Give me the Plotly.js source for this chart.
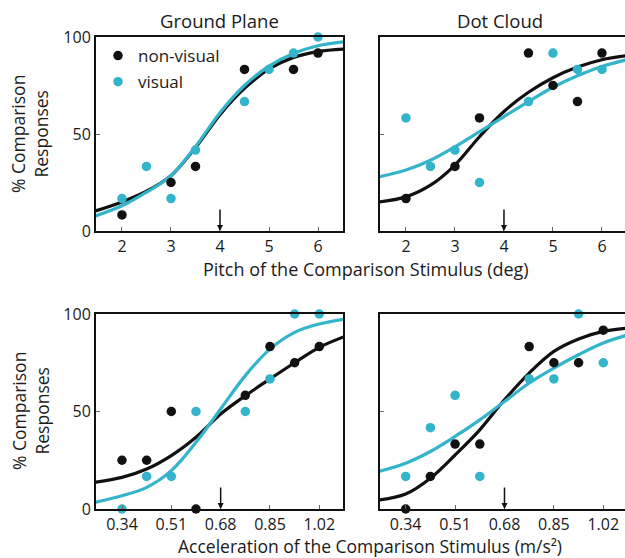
<!DOCTYPE html>
<html>
<head>
<meta charset="utf-8">
<script src="https://cdn.plot.ly/plotly-3.0.1.min.js"></script>
<style>html,body{margin:0;padding:0;background:#fff;overflow:hidden}</style>
</head>
<body>
<div id="chart" style="width:625px;height:558px"></div>
<script>
// ---- Data ----
const pitchX = [2, 2.5, 3, 3.5, 4, 4.5, 5, 5.5, 6];
const accelX = [0.34, 0.425, 0.51, 0.595, 0.68, 0.765, 0.85, 0.935, 1.02];
const pitchTicks = [2, 3, 4, 5, 6];
const accelTicks = [0.34, 0.51, 0.68, 0.85, 1.02];
const accelTickText = ["0.34", "0.51", "0.68", "0.85", "1.02"];

// Ground Plane, pitch (null = not visible)
const gpPitchNonVis = [8.3, null, 25, 33.3, null, 83.3, null, 83.3, 91.7];
const gpPitchVis    = [16.7, 33.3, 16.7, 41.7, null, 66.7, 83.3, 91.7, 100];
// Dot Cloud, pitch
const dcPitchNonVis = [16.7, null, 33.3, 58.3, null, 91.7, 75, 66.7, 91.7];
const dcPitchVis    = [58.3, 33.3, 41.7, 25, null, 66.7, 91.7, 83.3, 83.3];
// Ground Plane, acceleration
const gpAccelNonVis = [25, 25, 50, 0, null, 58.3, 83.3, 75, 83.3];
const gpAccelVis    = [0, 16.7, 16.7, 50, null, 50, 66.7, 100, 100];
// Dot Cloud, acceleration
const dcAccelNonVis = [0, 16.7, 33.3, 33.3, null, 83.3, 75, 75, 91.7];
const dcAccelVis    = [16.7, 41.7, 58.3, 16.7, null, 66.7, 66.7, 100, 75];

// Fitted curves
const pitchCurveX = [1.45, 2, 2.5, 3, 3.5, 4, 4.5, 5, 5.5, 6, 6.55];
const gpPitchFitNonVis = [10.3, 15, 20.5, 28.5, 43, 60, 73.5, 83.5, 89.5, 92.5, 93.8];
const gpPitchFitVis    = [7.7, 13, 20, 28.5, 43.5, 61, 75, 85, 91.5, 95.5, 97.6];
const dcPitchFitNonVis = [15, 17.6, 23.6, 34, 48.6, 61.6, 71.5, 79, 84.5, 88.3, 90.5];
const dcPitchFitVis    = [27.9, 31.4, 36.5, 43.4, 51.2, 59, 66.7, 74.1, 80, 84.8, 88.5];

const accelCurveX = [0.245, 0.34, 0.425, 0.51, 0.595, 0.68, 0.765, 0.85, 0.935, 1.02, 1.11];
const gpAccelFitNonVis = [13.7, 16.2, 20.5, 27.4, 36.8, 48.7, 58.1, 66.7, 75, 82.9, 88.6];
const gpAccelFitVis    = [3.4, 6.8, 11.1, 19.7, 34.2, 51.3, 68.4, 82, 90.6, 94.9, 97.5];
const dcAccelFitNonVis = [4.6, 7.7, 15.8, 27.7, 40.6, 56, 69.7, 80.8, 87.2, 91.1, 92.9];
const dcAccelFitVis    = [19.2, 23.5, 29.5, 37.2, 45.7, 55.1, 64.6, 72.3, 79.1, 85.1, 89.5];

const pitchPSE = 4;
const accelPSE = 0.68;

// ---- Styles ----
const BLACK = '#111111';
const CYAN = '#33b4cb';
const TXT = '#1a1a1a';
const W = 625, H = 558;
const px = v => v / W;
const py = v => 1 - v / H;
const FONT = 'Open Sans, Lato, sans-serif';

function curve(xa, ya, x, y, color) {
  return {x: x, y: y, xaxis: xa, yaxis: ya, type: 'scatter', mode: 'lines',
    line: {color: color, width: 3.2, shape: 'spline', smoothing: 1}, showlegend: false, hoverinfo: 'skip'};
}
function dots(xa, ya, x, y, color, name, show) {
  return {x: x, y: y, xaxis: xa, yaxis: ya, type: 'scatter', mode: 'markers', name: name,
    marker: {color: color, size: 9.5}, cliponaxis: false, showlegend: show, legendgroup: name};
}

const traces = [
  curve('x', 'y', pitchCurveX, gpPitchFitNonVis, BLACK),
  curve('x', 'y', pitchCurveX, gpPitchFitVis, CYAN),
  dots('x', 'y', pitchX, gpPitchNonVis, BLACK, 'non-visual', true),
  dots('x', 'y', pitchX, gpPitchVis, CYAN, 'visual', true),

  curve('x2', 'y2', pitchCurveX, dcPitchFitNonVis, BLACK),
  curve('x2', 'y2', pitchCurveX, dcPitchFitVis, CYAN),
  dots('x2', 'y2', pitchX, dcPitchNonVis, BLACK, 'non-visual', false),
  dots('x2', 'y2', pitchX, dcPitchVis, CYAN, 'visual', false),

  curve('x3', 'y3', accelCurveX, gpAccelFitNonVis, BLACK),
  curve('x3', 'y3', accelCurveX, gpAccelFitVis, CYAN),
  dots('x3', 'y3', accelX, gpAccelNonVis, BLACK, 'non-visual', false),
  dots('x3', 'y3', accelX, gpAccelVis, CYAN, 'visual', false),

  curve('x4', 'y4', accelCurveX, dcAccelFitNonVis, BLACK),
  curve('x4', 'y4', accelCurveX, dcAccelFitVis, CYAN),
  dots('x4', 'y4', accelX, dcAccelNonVis, BLACK, 'non-visual', false),
  dots('x4', 'y4', accelX, dcAccelVis, CYAN, 'visual', false)
];

const tickFont = {family: FONT, size: 16, color: TXT};
function xax(domain, range, tickvals, ticktext, anchor) {
  const a = {domain: domain, range: range, anchor: anchor, tickvals: tickvals,
    showline: true, linecolor: BLACK, linewidth: 2, mirror: true, ticks: 'inside', ticklen: 4,
    tickcolor: '#666', tickwidth: 1, showgrid: false, zeroline: false, tickfont: tickFont, fixedrange: true};
  if (ticktext) a.ticktext = ticktext;
  return a;
}
function yax(domain, anchor, showlabels, mirror) {
  return {domain: domain, range: [0, 100], anchor: anchor, tickvals: [0, 50, 100],
    showline: true, linecolor: BLACK, linewidth: 2, mirror: mirror, ticks: 'inside', ticklen: 4,
    tickcolor: '#666', tickwidth: 1, showgrid: false, zeroline: false, showticklabels: showlabels,
    tickfont: tickFont, fixedrange: true};
}

const leftD = [px(96), px(343)];
const rightD = [px(380), 1];
const topD = [py(231), py(37)];
const botD = [py(509), py(314)];

function arrow(xr, yr, xv) {
  return {x: xv, y: 0, xref: xr, yref: yr, ax: 0, ay: -23, showarrow: true,
    arrowhead: 2, arrowsize: 0.8, arrowwidth: 1.5, arrowcolor: BLACK, standoff: 0, text: ''};
}
function label(text, x, y, size, angle) {
  const a = {text: text, x: px(x), y: py(y), xref: 'paper', yref: 'paper', showarrow: false,
    xanchor: 'center', yanchor: 'middle', font: {family: FONT, size: size, color: TXT}};
  if (angle) a.textangle = angle;
  return a;
}

const layout = {
  width: W, height: H, margin: {l: 0, r: 0, t: 0, b: 0},
  paper_bgcolor: '#fff', plot_bgcolor: '#fff',
  xaxis: xax(leftD, [1.47, 6.51], pitchTicks, null, 'y'),
  yaxis: yax(topD, 'x', true, true),
  xaxis2: xax(rightD, [1.47, 6.47], pitchTicks, null, 'y2'),
  yaxis2: yax(topD, 'x2', false, false),
  xaxis3: xax(leftD, [0.2504, 1.1017], accelTicks, accelTickText, 'y3'),
  yaxis3: yax(botD, 'x3', true, true),
  xaxis4: xax(rightD, [0.2516, 1.0947], accelTicks, accelTickText, 'y4'),
  yaxis4: yax(botD, 'x4', false, false),
  showlegend: true,
  legend: {x: px(98), y: py(38), xanchor: 'left', yanchor: 'top', bgcolor: 'rgba(0,0,0,0)',
    font: {family: FONT, size: 17, color: TXT}, traceorder: 'grouped', tracegroupgap: 1,
    itemwidth: 30},
  annotations: [
    label('Ground Plane', 219, 21, 18.5),
    label('Dot Cloud', 500, 21, 18.5),
    label('Pitch of the Comparison Stimulus (deg)', 366, 269, 18),
    label('Acceleration of the Comparison Stimulus (m/s²)', 370, 546, 17.5),
    label('% Comparison<br>Responses', 30, 134, 17.5, -90),
    label('% Comparison<br>Responses', 30, 411, 17.5, -90),
    arrow('x', 'y', pitchPSE),
    arrow('x2', 'y2', pitchPSE),
    arrow('x3', 'y3', accelPSE),
    arrow('x4', 'y4', accelPSE)
  ]
};

Plotly.newPlot('chart', traces, layout, {displayModeBar: false, staticPlot: true});
</script>
</body>
</html>
